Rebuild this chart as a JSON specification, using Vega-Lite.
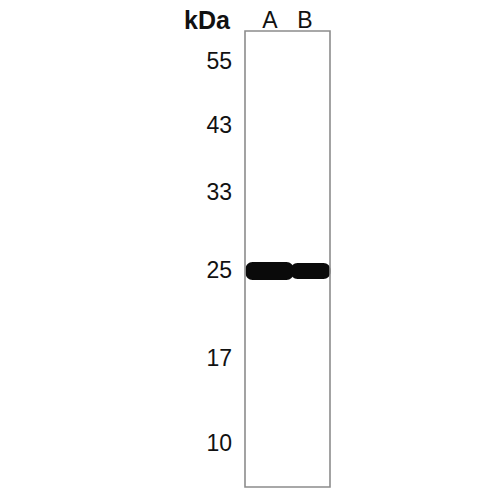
{
  "$schema": "https://vega.github.io/schema/vega-lite/v6.json",
  "description": "Western blot, lanes A and B, single band near 25 kDa.",
  "autosize": {"type": "fit", "contains": "padding"},
  "width": 500,
  "height": 500,
  "padding": 0,
  "background": "white",
  "config": {"view": {"stroke": null}},
  "datasets": {
    "frame": [{"x0": 4.9, "x1": 6.6, "y0": 0.62, "y1": 9.74}],
    "bands": [
      {"lane": "A", "x0": 4.91, "x1": 5.87, "y0": 5.24, "y1": 5.6},
      {"lane": "B", "x0": 5.81, "x1": 6.61, "y0": 5.26, "y1": 5.58}
    ],
    "markers": [
      {"kda": "55", "pos": 1.24},
      {"kda": "43", "pos": 2.52},
      {"kda": "33", "pos": 3.86},
      {"kda": "25", "pos": 5.42},
      {"kda": "17", "pos": 7.18},
      {"kda": "10", "pos": 8.88}
    ],
    "unit": [{"label": "kDa", "x": 4.14}],
    "lanes": [
      {"label": "A", "x": 5.4},
      {"label": "B", "x": 6.1}
    ]
  },
  "layer": [
    {
      "data": {"name": "bands"},
      "mark": {"type": "rect", "fill": "#0a0a0a", "cornerRadius": 7},
      "encoding": {
        "x": {"field": "x0", "type": "quantitative", "scale": {"domain": [0, 10], "nice": false}, "axis": null},
        "x2": {"field": "x1"},
        "y": {"field": "y0", "type": "quantitative", "scale": {"domain": [0, 10], "nice": false, "reverse": true}, "axis": null},
        "y2": {"field": "y1"}
      }
    },
    {
      "data": {"name": "frame"},
      "mark": {"type": "rect", "fill": null, "stroke": "#8c8c8c", "strokeWidth": 1.6},
      "encoding": {
        "x": {"field": "x0", "type": "quantitative"},
        "x2": {"field": "x1"},
        "y": {"field": "y0", "type": "quantitative"},
        "y2": {"field": "y1"}
      }
    },
    {
      "data": {"name": "markers"},
      "mark": {"type": "text", "align": "right", "baseline": "middle", "font": "Liberation Sans", "fontSize": 23, "color": "#111"},
      "encoding": {
        "x": {"datum": 4.64, "type": "quantitative"},
        "y": {"field": "pos", "type": "quantitative"},
        "text": {"field": "kda"}
      }
    },
    {
      "data": {"name": "unit"},
      "mark": {"type": "text", "align": "center", "baseline": "middle", "font": "Liberation Sans", "fontSize": 25, "fontWeight": "bold", "color": "#111"},
      "encoding": {
        "x": {"field": "x", "type": "quantitative"},
        "y": {"datum": 0.42, "type": "quantitative"},
        "text": {"field": "label"}
      }
    },
    {
      "data": {"name": "lanes"},
      "mark": {"type": "text", "align": "center", "baseline": "middle", "font": "Liberation Sans", "fontSize": 23, "color": "#111"},
      "encoding": {
        "x": {"field": "x", "type": "quantitative"},
        "y": {"datum": 0.42, "type": "quantitative"},
        "text": {"field": "label"}
      }
    }
  ]
}
